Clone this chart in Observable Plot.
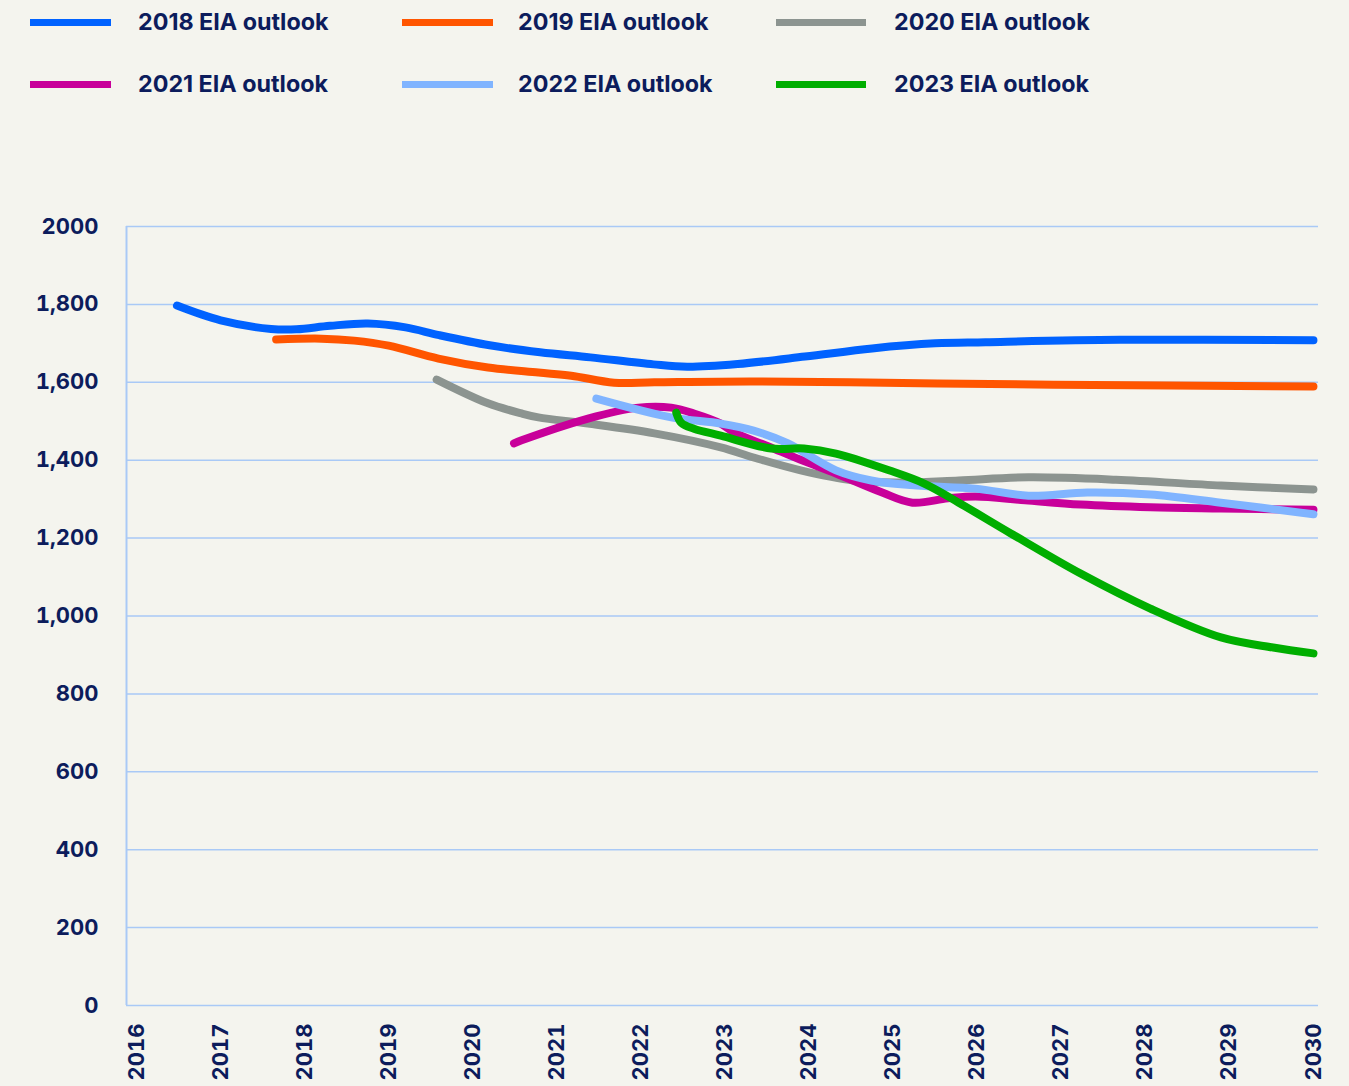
<!DOCTYPE html>
<html>
<head>
<meta charset="utf-8">
<script src="https://cdn.jsdelivr.net/npm/d3@7"></script>
<script src="https://cdn.jsdelivr.net/npm/@observablehq/plot@0.6"></script>
<style>
  html, body { margin: 0; padding: 0; background: #f4f4ee; }
  body { width: 1349px; height: 1086px; position: relative; overflow: hidden; font-family: Inter, "Noto Sans", sans-serif; }
  #legend { position: absolute; left: 0; top: 0; width: 1349px; height: 140px; }
  .sw { position: absolute; height: 7px; }
  .lab { position: absolute; font-weight: 700; font-size: 23.3px; color: #0c1c5c; white-space: nowrap; line-height: 30px; }
  #chart { position: absolute; left: 0; top: 140px; }
</style>
</head>
<body>
<div id="legend"></div>
<div id="chart"></div>
<script>
// ---- data ----
const seriesNames = ["2018 EIA outlook", "2019 EIA outlook", "2020 EIA outlook", "2021 EIA outlook", "2022 EIA outlook", "2023 EIA outlook"];
const seriesColors = ["#0062ff", "#ff5500", "#8c9490", "#c8009a", "#80b4ff", "#00ae00"];

const years2018 = [2016.48, 2017.0, 2017.6, 2017.9, 2018.3, 2018.75, 2019.2, 2019.6, 2020.2, 2020.8, 2021.4, 2022.15, 2022.55, 2023.15, 2023.95, 2024.75, 2025.5, 2026.1, 2027.7, 2030.0];
const values2018 = [1797, 1759, 1737, 1736, 1745, 1751, 1741, 1721, 1695, 1677, 1664, 1646, 1640, 1647, 1666, 1687, 1700, 1703, 1709, 1708];

const years2019 = [2017.66, 2018.2, 2018.59, 2019.0, 2019.59, 2020.18, 2020.78, 2021.17, 2021.68, 2022.16, 2023.34, 2025.53, 2026.91, 2030.0];
const values2019 = [1710, 1712, 1707, 1694, 1661, 1638, 1625, 1617, 1599, 1600, 1602, 1597, 1594, 1589];

const years2020 = [2019.57, 2020.18, 2020.58, 2020.78, 2021.37, 2022.16, 2022.95, 2023.34, 2023.9, 2024.53, 2025.15, 2025.78, 2026.61, 2027.65, 2028.9, 2030.0];
const values2020 = [1607, 1546, 1520, 1510, 1494, 1469, 1433, 1407, 1374, 1348, 1343, 1348, 1356, 1350, 1335, 1325];

const years2021 = [2020.49, 2020.58, 2021.37, 2021.97, 2022.36, 2022.63, 2022.95, 2023.11, 2023.51, 2023.9, 2024.32, 2024.87, 2025.23, 2025.65, 2025.98, 2026.57, 2027.23, 2028.06, 2028.9, 2030.0];
const values2021 = [1443, 1451, 1507, 1535, 1535, 1520, 1494, 1471, 1436, 1401, 1366, 1317, 1291, 1302, 1307, 1297, 1286, 1279, 1276, 1273];

const years2022 = [2021.47, 2022.36, 2022.95, 2023.34, 2023.75, 2023.9, 2024.32, 2024.74, 2025.28, 2025.98, 2026.61, 2027.31, 2028.06, 2028.9, 2030.0];
const values2022 = [1558, 1510, 1494, 1476, 1443, 1425, 1374, 1348, 1335, 1327, 1309, 1317, 1312, 1291, 1261];

const years2023 = [2022.42, 2022.48, 2022.63, 2022.95, 2023.55, 2023.94, 2024.32, 2024.95, 2025.37, 2025.78, 2026.4, 2027.23, 2028.06, 2028.9, 2029.52, 2030.0];
const values2023 = [1522, 1496, 1481, 1463, 1430, 1430, 1417, 1374, 1340, 1291, 1212, 1109, 1019, 945, 919, 904];

const xTickYears = [2016, 2017, 2018, 2019, 2020, 2021, 2022, 2023, 2024, 2025, 2026, 2027, 2028, 2029, 2030];
const yTickValues = [0, 200, 400, 600, 800, 1000, 1200, 1400, 1600, 1800, 2000];
const yTickLabels = ["0", "200", "400", "600", "800", "1,000", "1,200", "1,400", "1,600", "1,800", "2000"];

// ---- build table ----
const allYears = [years2018, years2019, years2020, years2021, years2022, years2023];
const allValues = [values2018, values2019, values2020, values2021, values2022, values2023];
const rows = [];
seriesNames.forEach((name, s) => {
  allYears[s].forEach((yr, i) => rows.push({series: name, year: yr, value: allValues[s][i]}));
});

// ---- legend ----
const legend = document.getElementById("legend");
const colSwatchLeft = [30, 402, 776];
const colSwatchWidth = [81, 91, 90];
const colTextLeft = [138, 518, 894];
const rowCenter = [22, 84];
seriesNames.forEach((name, i) => {
  const c = i % 3, r = Math.floor(i / 3);
  const sw = document.createElement("div");
  sw.className = "sw";
  sw.style.left = colSwatchLeft[c] + "px";
  sw.style.width = colSwatchWidth[c] + "px";
  sw.style.top = (rowCenter[r] - 3.5) + "px";
  sw.style.background = seriesColors[i];
  legend.appendChild(sw);
  const lab = document.createElement("div");
  lab.className = "lab";
  lab.style.left = colTextLeft[c] + "px";
  lab.style.top = (rowCenter[r] - 15) + "px";
  lab.textContent = name;
  legend.appendChild(lab);
});

// ---- chart ----
const xMin = 2015.88, xMax = 2030.06;
const gridColor = "#a9c9f6";
const chart = Plot.plot({
  width: 1349,
  height: 946,
  marginLeft: 126,
  marginRight: 31,
  marginTop: 86,
  marginBottom: 81,
  style: {background: "transparent", fontFamily: "Inter, 'Noto Sans', sans-serif", fontSize: "22px", fontWeight: 700, color: "#0c1c5c", overflow: "visible"},
  x: {domain: [xMin, xMax], ticks: xTickYears, tickFormat: d => String(d), tickRotate: -90, tickSize: 0, tickPadding: 18, label: null},
  y: {domain: [0, 2000], ticks: yTickValues, tickFormat: d => yTickLabels[yTickValues.indexOf(d)], tickSize: 0, tickPadding: 28, label: null},
  color: {domain: seriesNames, range: seriesColors},
  marks: [
    Plot.ruleY(yTickValues, {stroke: gridColor, strokeWidth: 1.5}),
    Plot.ruleX([xMin], {y1: 0, y2: 2000, stroke: gridColor, strokeWidth: 2}),
    Plot.line(rows, {x: "year", y: "value", z: "series", stroke: "series", strokeWidth: 8, curve: "catmull-rom", strokeLinecap: "round", strokeLinejoin: "round"})
  ]
});
document.getElementById("chart").appendChild(chart);
</script>
</body>
</html>
